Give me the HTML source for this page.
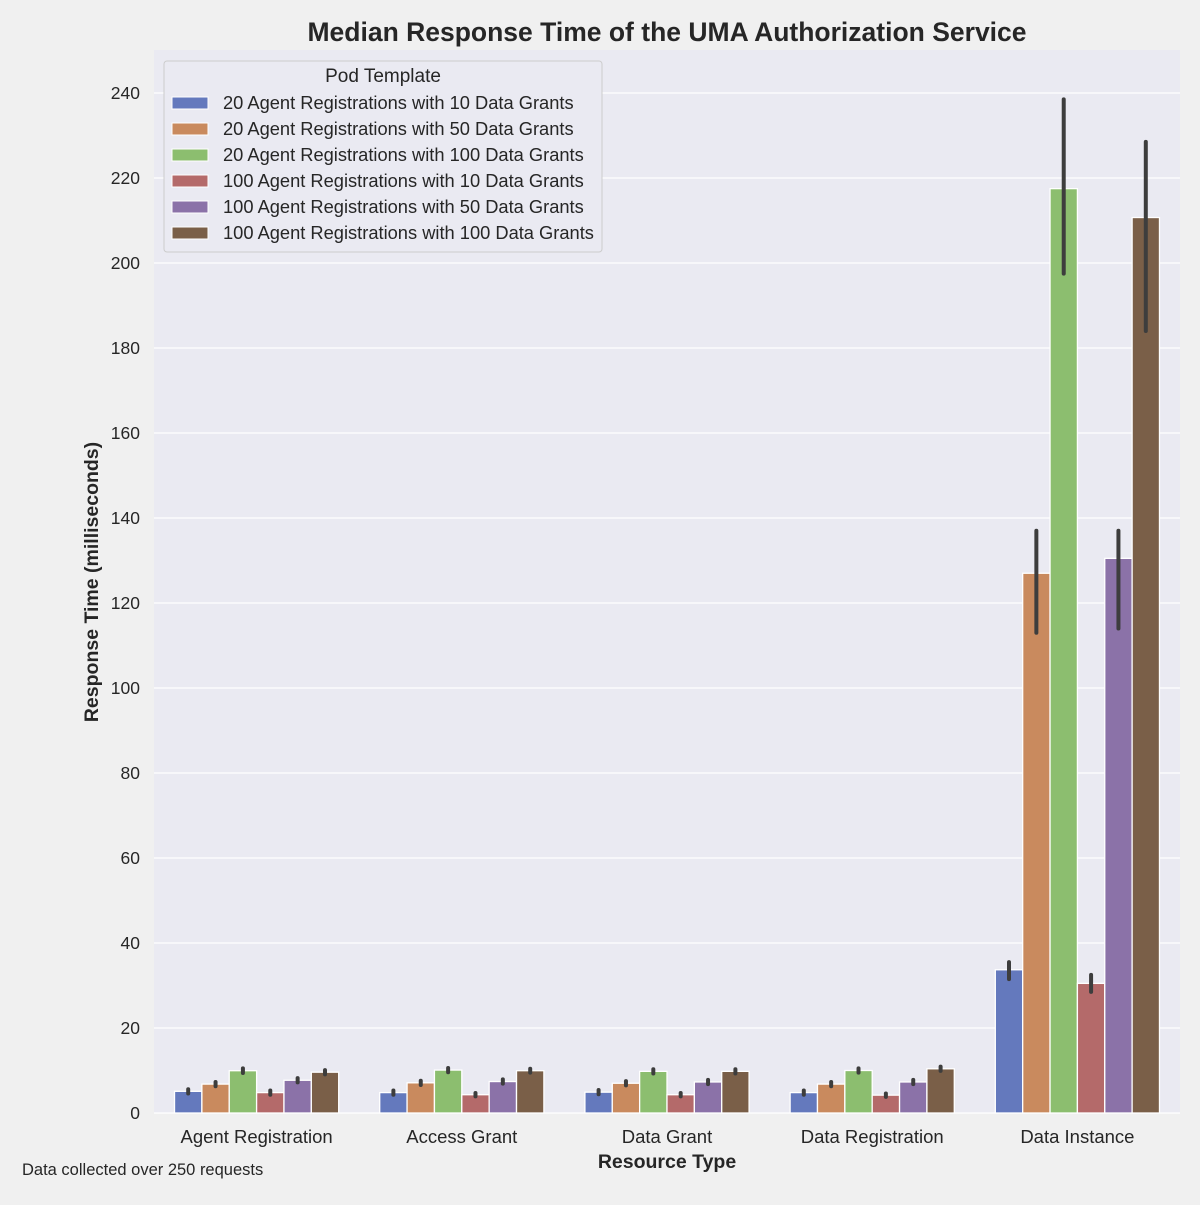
<!DOCTYPE html>
<html><head><meta charset="utf-8">
<style>
body{margin:0;background:#f0f0f0;}
svg text{font-family:"Liberation Sans",Arial,sans-serif;fill:#262626;}
</style></head>
<body>
<svg id="chart" width="1200" height="1200" xmlns="http://www.w3.org/2000/svg">
<rect x="0" y="0" width="1200" height="1200" fill="#f0f0f0"/>
<rect x="154" y="50" width="1026" height="1063" fill="#eaeaf2"/>
<g id="grid"></g>
<g id="bars"></g>
<g id="errs"></g>
<g id="yticks"></g>
<g id="xticks"></g>
<text x="667" y="41" text-anchor="middle" font-size="26.5" font-weight="bold">Median Response Time of the UMA Authorization Service</text>
<text x="667" y="1168" text-anchor="middle" font-size="19.5" font-weight="bold">Resource Type</text>
<text transform="translate(98,582) rotate(-90)" text-anchor="middle" font-size="19.5" font-weight="bold">Response Time (milliseconds)</text>
<text x="22" y="1175" font-size="16.5">Data collected over 250 requests</text>
<g id="legend">
<rect x="164" y="61" width="438" height="191" rx="3" fill="#eaeaf2" stroke="#cccccc" stroke-width="1"/>
<text x="383" y="82" text-anchor="middle" font-size="19">Pod Template</text>
</g>
</svg>
<script>
const categories = ["Agent Registration","Access Grant","Data Grant","Data Registration","Data Instance"];
const seriesNames = ["20 Agent Registrations with 10 Data Grants","20 Agent Registrations with 50 Data Grants","20 Agent Registrations with 100 Data Grants","100 Agent Registrations with 10 Data Grants","100 Agent Registrations with 50 Data Grants","100 Agent Registrations with 100 Data Grants"];
const colors = ["#6479bd","#c98a5e","#8cbe6f","#b46a6a","#8b72a8","#7a5f48"];
const s20_10 = [5.1,4.8,4.9,4.8,33.7];
const s20_50 = [6.8,7.1,7.0,6.8,127];
const s20_100 = [9.95,10.1,9.8,10.0,217.5];
const s100_10 = [4.8,4.3,4.3,4.2,30.5];
const s100_50 = [7.7,7.4,7.3,7.3,130.5];
const s100_100 = [9.6,9.95,9.8,10.4,210.7];
const errLow20_10 = [4.6,4.3,4.4,4.3,31.5];
const errHigh20_10 = [5.6,5.3,5.4,5.3,35.5];
const errLow20_50 = [6.3,6.6,6.5,6.3,113];
const errHigh20_50 = [7.3,7.6,7.5,7.3,137];
const errLow20_100 = [9.4,9.6,9.3,9.5,197.5];
const errHigh20_100 = [10.5,10.6,10.3,10.5,238.5];
const errLow100_10 = [4.3,3.9,3.9,3.8,28.5];
const errHigh100_10 = [5.3,4.7,4.7,4.6,32.5];
const errLow100_50 = [7.2,6.9,6.8,6.8,114];
const errHigh100_50 = [8.2,7.9,7.8,7.8,137];
const errLow100_100 = [9.1,9.5,9.3,9.9,184];
const errHigh100_100 = [10.1,10.4,10.3,10.9,228.5];
const yTicks = [0,20,40,60,80,100,120,140,160,180,200,220,240];

const series = [s20_10,s20_50,s20_100,s100_10,s100_50,s100_100];
const lows = [errLow20_10,errLow20_50,errLow20_100,errLow100_10,errLow100_50,errLow100_100];
const highs = [errHigh20_10,errHigh20_50,errHigh20_100,errHigh100_10,errHigh100_50,errHigh100_100];
const NS="http://www.w3.org/2000/svg";
const L=154,R=1180,B=1113,T=50;
function y(v){return B - v*(B-93)/240;}
const band=(R-L)/categories.length;
function xc(i){return L+(i+0.5)*band;}
const bw=band*0.8/series.length;
function mk(tag,attrs,parent){const e=document.createElementNS(NS,tag);for(const k in attrs)e.setAttribute(k,attrs[k]);document.getElementById(parent).appendChild(e);return e;}

yTicks.forEach(t=>{
  const g=mk('line',{x1:L,x2:R,y1:y(t),y2:y(t),stroke:'#ffffff','stroke-width':1.3},'grid');
  
  
  const tx=mk('text',{x:L-14,y:y(t)+6,'text-anchor':'end','font-size':17.5},'yticks');
  tx.textContent=t;
  
  
});
categories.forEach((c,i)=>{
  const tx=mk('text',{x:xc(i),y:1143,'text-anchor':'middle','font-size':18.5},'xticks');
  tx.textContent=c;
  
  
});
series.forEach((s,j)=>{
  s.forEach((v,i)=>{
    const x=xc(i)-band*0.4+j*bw;
    const r=mk('rect',{x:x,y:y(v),width:bw,height:B-y(v),fill:colors[j],stroke:'#ffffff','stroke-width':1.3},'bars');
    
    
    const e=mk('line',{x1:x+bw/2,x2:x+bw/2,y1:y(lows[j][i]),y2:y(highs[j][i]),stroke:'#3d3d3d','stroke-width':4,'stroke-linecap':'round'},'errs');
    
    
  });
  const ly=103+j*26;
  const sw=mk('rect',{x:172,y:ly-6,width:36,height:12,fill:colors[j],stroke:'#ffffff','stroke-width':1},'legend');
  
  
  const lt=mk('text',{x:223,y:ly+6,'font-size':18.3},'legend');
  lt.textContent=seriesNames[j];
  
  
});
</script>
</body></html>
